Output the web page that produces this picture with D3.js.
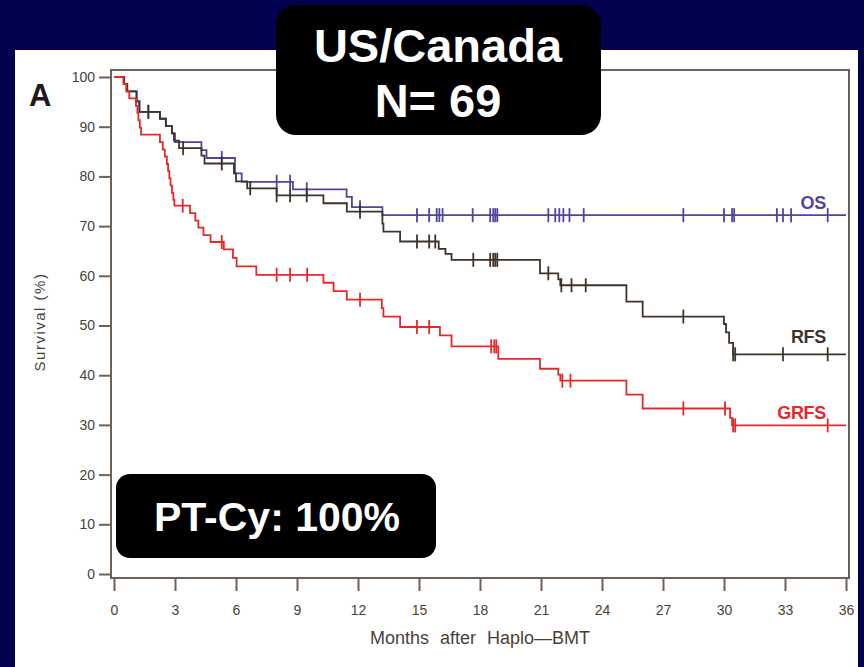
<!DOCTYPE html>
<html>
<head>
<meta charset="utf-8">
<script src="https://cdn.jsdelivr.net/npm/d3@7"></script>
<style>
  html, body { margin: 0; padding: 0; background: #02024f; }
  svg { display: block; }
</style>
</head>
<body>
<svg id="chart" width="864" height="667"></svg>
<script>
// Kaplan–Meier step points: [month, survival % after the event]
const osSteps = [[0,100],[0.5,98.6],[0.65,97.1],[1.11,95.1],[1.25,93.0],[2.26,91.6],[2.55,90.1],[2.85,88.6],[3.0,86.9],
  [4.3,85.3],[4.55,83.7],[5.95,80.6],[6.28,78.9],[8.8,77.4],[11.44,75.9],[11.7,73.8],[13.2,72.2]];
const rfsSteps = [[0,100],[0.5,98.6],[0.65,97.1],[1.11,95.1],[1.25,93.0],[2.26,91.6],[2.55,90.1],[2.85,88.7],[2.95,87.2],[3.2,85.7],
  [4.3,84.2],[4.45,82.6],[5.9,80.6],[6.0,79.0],[6.55,77.6],[8.0,76.2],[10.3,74.6],[11.45,72.9],[13.2,70.5],[13.25,68.9],
  [14.07,66.9],[15.97,65.4],[16.3,64.4],[16.6,63.2],[20.95,60.5],[21.85,59.3],[21.95,58.1],[25.2,54.8],[26.0,51.8],
  [30.0,50.3],[30.1,48.6],[30.25,46.5],[30.45,44.2]];
const grfsSteps = [[0,100],[0.46,98.6],[0.6,97.1],[0.75,95.7],[1.08,94.2],[1.15,92.8],[1.2,91.3],[1.27,89.8],[1.33,88.4],
  [2.26,86.9],[2.4,85.4],[2.5,84.0],[2.6,82.5],[2.66,81.1],[2.72,79.6],[2.78,78.2],[2.85,76.7],[2.92,75.3],[2.97,74.1],
  [3.74,72.6],[4.0,71.1],[4.15,69.7],[4.4,68.2],[4.75,66.8],[5.4,65.3],[5.85,63.6],[6.03,61.9],[7.0,60.2],
  [10.3,58.6],[10.8,56.9],[11.45,55.2],[13.17,53.5],[13.25,51.8],[14.07,49.7],[16.03,48.0],[16.6,45.8],[18.9,43.3],
  [20.95,41.3],[21.85,40.1],[21.95,38.9],[25.2,36.1],[26.0,33.3],[30.3,31.4],[30.4,29.9]];

// Censoring times (months)
const osCensor = [1.69,5.3,8.0,8.66,9.48,12.1,14.9,15.5,15.87,16.0,16.16,17.64,18.5,18.65,18.75,18.85,
  21.36,21.7,21.9,22.1,22.4,23.1,28.0,30.0,30.4,30.5,32.6,32.9,33.3,35.1];
const rfsCensor = [1.69,3.4,5.3,6.7,8.0,8.66,9.48,12.1,14.9,15.5,15.8,17.67,18.5,18.65,18.75,18.85,
  21.36,22.0,22.5,23.2,28.0,30.45,30.55,32.9,35.1];
const grfsCensor = [3.38,5.3,8.0,8.66,9.5,12.1,14.9,15.5,18.55,18.7,18.8,22.05,22.45,28.0,30.05,30.45,30.55,35.1];

const seriesNames = ["OS", "RFS", "GRFS"];
const seriesColors = ["#4e469e", "#3f342a", "#e6282a"];
const xTicks = [0,3,6,9,12,15,18,21,24,27,30,33,36];
const yTicks = [0,10,20,30,40,50,60,70,80,90,100];
const maxMonth = 36;

const svg = d3.select("#chart");
const axisColor = "#6d6158";
const labelColor = "#4a3f37";
const font = "'Liberation Sans', Arial, sans-serif";

// Backdrop panel
svg.append("rect").attr("x", 15).attr("y", 50).attr("width", 843).attr("height", 617).attr("fill", "#ffffff");

const x = d3.scaleLinear().domain([0, maxMonth]).range([114, 846]);
const y = d3.scaleLinear().domain([0, 100]).range([574, 77]);

const frame = { left: 111, right: 849, top: 70, bottom: 578 };

// Plot frame
svg.append("rect").attr("x", frame.left).attr("y", frame.top)
  .attr("width", frame.right - frame.left).attr("height", frame.bottom - frame.top)
  .attr("fill", "none").attr("stroke", axisColor).attr("stroke-width", 2);

// Y axis
const yAxis = svg.append("g").attr("transform", `translate(${frame.left},0)`)
  .call(d3.axisLeft(y).tickValues(yTicks).tickSize(12).tickPadding(4));
yAxis.select(".domain").remove();
yAxis.selectAll(".tick line").attr("stroke", axisColor).attr("stroke-width", 2);
yAxis.selectAll(".tick text").attr("fill", labelColor).attr("font-family", font).attr("font-size", 14);

// X axis
const xAxis = svg.append("g").attr("transform", `translate(0,${frame.bottom})`)
  .call(d3.axisBottom(x).tickValues(xTicks).tickSize(13).tickPadding(14));
xAxis.select(".domain").remove();
xAxis.selectAll(".tick line").attr("stroke", axisColor).attr("stroke-width", 2);
xAxis.selectAll(".tick text").attr("fill", labelColor).attr("font-family", font).attr("font-size", 14);

// Axis titles
svg.append("text").attr("x", 480).attr("y", 644).attr("text-anchor", "middle")
  .attr("font-family", font).attr("font-size", 18).attr("word-spacing", 6).attr("fill", labelColor)
  .text("Months after Haplo\u2014BMT");
svg.append("text").attr("transform", "translate(45,322) rotate(-90)").attr("text-anchor", "middle")
  .attr("font-family", font).attr("font-size", 15).attr("letter-spacing", 1.5).attr("fill", labelColor)
  .text("Survival (%)");

// Panel letter
svg.append("text").attr("x", 29).attr("y", 106).attr("font-family", font).attr("font-weight", "bold")
  .attr("font-size", 31).attr("fill", "#1f1a17").text("A");

// Curves
const stepLine = d3.line().x(d => x(d[0])).y(d => y(d[1])).curve(d3.curveStepAfter);
const valueAt = (steps, t) => {
  let v = steps[0][1];
  for (const s of steps) { if (s[0] <= t) v = s[1]; }
  return v;
};

const allSeries = [
  { steps: osSteps, censor: osCensor },
  { steps: rfsSteps, censor: rfsCensor },
  { steps: grfsSteps, censor: grfsCensor }
];

const plot = svg.append("g");
allSeries.forEach((s, i) => {
  const pts = s.steps.concat([[maxMonth, s.steps[s.steps.length - 1][1]]]);
  plot.append("path").attr("d", stepLine(pts)).attr("fill", "none")
    .attr("stroke", seriesColors[i]).attr("stroke-width", 1.8);
  plot.selectAll(null).data(s.censor).enter().append("line")
    .attr("x1", d => x(d)).attr("x2", d => x(d))
    .attr("y1", d => y(valueAt(s.steps, d)) - 7).attr("y2", d => y(valueAt(s.steps, d)) + 7)
    .attr("stroke", seriesColors[i]).attr("stroke-width", 1.8);
});

// Series labels
const labelY = [209, 343, 419];
seriesNames.forEach((n, i) => {
  svg.append("text").attr("x", 826).attr("y", labelY[i]).attr("text-anchor", "end")
    .attr("font-family", font).attr("font-size", 18).attr("font-weight", "bold")
    .attr("fill", seriesColors[i]).attr("letter-spacing", -0.3).text(n);
});

// Callout boxes
const box1 = svg.append("g");
box1.append("rect").attr("x", 276).attr("y", 5).attr("width", 325).attr("height", 130).attr("rx", 20)
  .attr("fill", "#000000");
box1.append("text").attr("x", 438).attr("y", 62).attr("text-anchor", "middle").attr("font-family", font)
  .attr("font-weight", "bold").attr("font-size", 47).attr("fill", "#ffffff").text("US/Canada");
box1.append("text").attr("x", 438).attr("y", 117).attr("text-anchor", "middle").attr("font-family", font)
  .attr("font-weight", "bold").attr("font-size", 47).attr("fill", "#ffffff").text("N= 69");

const box2 = svg.append("g");
box2.append("rect").attr("x", 116).attr("y", 474).attr("width", 320).attr("height", 84).attr("rx", 14)
  .attr("fill", "#000000");
box2.append("text").attr("x", 277).attr("y", 531).attr("text-anchor", "middle").attr("font-family", font)
  .attr("font-weight", "bold").attr("font-size", 41).attr("fill", "#ffffff").text("PT-Cy: 100%");
</script>
</body>
</html>
